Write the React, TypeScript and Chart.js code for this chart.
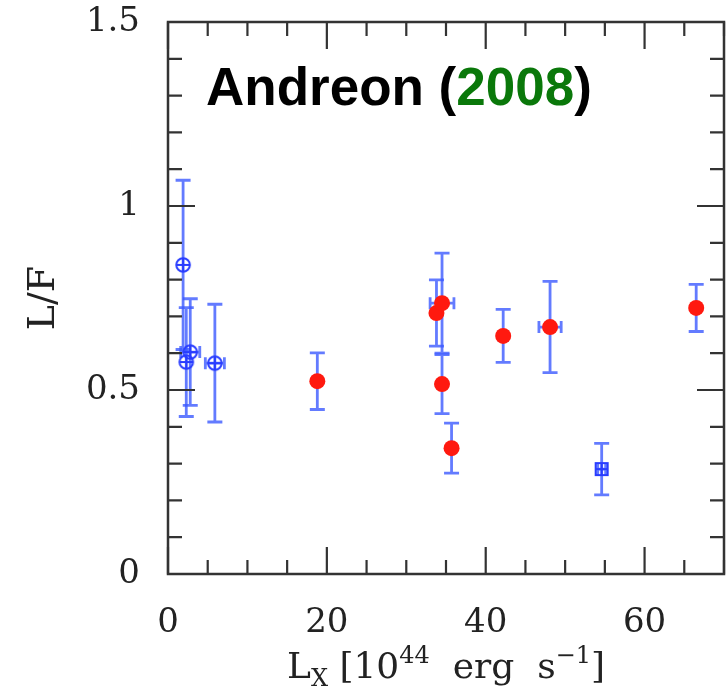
import React, { useEffect, useRef } from 'react';
import { Chart, registerables } from 'chart.js';

Chart.register(...registerables);

// ---- data ----
const openX = [1.9, 2.8, 2.3, 5.9];
const openY = [0.84, 0.603, 0.576, 0.573];
const openYErr = [0.23, 0.145, 0.148, 0.16];
const openXErr = [0, 1.2, 0, 1.2];

const squareX = [54.6];
const squareY = [0.285];
const squareYErr = [0.07];
const squareXErr = [0.5];

const redX = [18.8, 33.8, 34.5, 34.5, 35.7, 42.2, 48.1, 66.5];
const redY = [0.524, 0.709, 0.736, 0.516, 0.342, 0.647, 0.671, 0.723];
const redYErr = [0.077, 0.09, 0.136, 0.08, 0.068, 0.072, 0.124, 0.064];
const redXErr = [0.3, 0, 1.5, 0.3, 0.3, 0.5, 1.4, 0.3];

const xTicks = [0, 20, 40, 60];
const yTicks = [0, 0.5, 1, 1.5];
const xRange = [0, 70];
const yRange = [0, 1.5];
const xMinorStep = 5;
const xMajorStep = 20;
const yMinorStep = 0.1;
const yMajorStep = 0.5;

const titleParts = [
  { text: 'Andreon (', color: '#000000' },
  { text: '2008', color: '#0a780a' },
  { text: ')', color: '#000000' },
];
const yTitle = 'L/F';

const BLUE = 'rgb(40,60,255)';
const ERR = 'rgba(60,90,255,0.8)';
const RED = 'rgb(255,25,15)';
const FRAME = '#333333';
const SERIF = '"DejaVu Serif", serif';

function makeMarker(kind: 'circle' | 'square'): HTMLCanvasElement {
  const c = document.createElement('canvas');
  c.width = 18;
  c.height = 18;
  const g = c.getContext('2d')!;
  g.strokeStyle = BLUE;
  g.lineWidth = 2;
  if (kind === 'circle') {
    g.beginPath();
    g.arc(9, 9, 6.8, 0, Math.PI * 2);
    g.stroke();
  } else {
    g.strokeRect(3, 3, 12, 12);
  }
  g.beginPath();
  g.moveTo(2, 9);
  g.lineTo(16, 9);
  g.moveTo(9, 2);
  g.lineTo(9, 16);
  g.stroke();
  return c;
}

const errorBarPlugin = {
  id: 'errorBars',
  beforeDatasetsDraw(chart: any) {
    const { ctx, scales } = chart;
    const xs = scales.x;
    const ys = scales.y;
    const groups = [
      [openX, openY, openXErr, openYErr],
      [squareX, squareY, squareXErr, squareYErr],
      [redX, redY, redXErr, redYErr],
    ];
    ctx.save();
    ctx.strokeStyle = ERR;
    ctx.lineWidth = 2.8;
    for (const [gx, gy, ex, ey] of groups) {
      for (let i = 0; i < gx.length; i++) {
        const px = xs.getPixelForValue(gx[i]);
        const py = ys.getPixelForValue(gy[i]);
        if (ey[i] > 0) {
          const t = ys.getPixelForValue(gy[i] + ey[i]);
          const b = ys.getPixelForValue(gy[i] - ey[i]);
          ctx.beginPath();
          ctx.moveTo(px, t);
          ctx.lineTo(px, b);
          ctx.moveTo(px - 7.5, t);
          ctx.lineTo(px + 7.5, t);
          ctx.moveTo(px - 7.5, b);
          ctx.lineTo(px + 7.5, b);
          ctx.stroke();
        }
        if (ex[i] > 0) {
          const l = xs.getPixelForValue(gx[i] - ex[i]);
          const r = xs.getPixelForValue(gx[i] + ex[i]);
          ctx.beginPath();
          ctx.moveTo(l, py);
          ctx.lineTo(r, py);
          ctx.moveTo(l, py - 6);
          ctx.lineTo(l, py + 6);
          ctx.moveTo(r, py - 6);
          ctx.lineTo(r, py + 6);
          ctx.stroke();
        }
      }
    }
    ctx.restore();
  },
};

const framePlugin = {
  id: 'frame',
  afterDraw(chart: any) {
    const { ctx, chartArea, scales } = chart;
    const { left, right, top, bottom } = chartArea;
    const xs = scales.x;
    const ys = scales.y;
    ctx.save();
    ctx.strokeStyle = FRAME;
    ctx.lineWidth = 2.5;
    ctx.strokeRect(left, top, right - left, bottom - top);
    ctx.lineWidth = 2.2;
    ctx.beginPath();
    const nx = Math.round((xRange[1] - xRange[0]) / xMinorStep);
    for (let i = 0; i <= nx; i++) {
      const v = xRange[0] + i * xMinorStep;
      const len = Math.abs(v % xMajorStep) < 1e-9 ? 27 : 14;
      const p = xs.getPixelForValue(v);
      ctx.moveTo(p, bottom);
      ctx.lineTo(p, bottom - len);
      ctx.moveTo(p, top);
      ctx.lineTo(p, top + len);
    }
    const ny = Math.round((yRange[1] - yRange[0]) / yMinorStep);
    const per = Math.round(yMajorStep / yMinorStep);
    for (let i = 0; i <= ny; i++) {
      const v = yRange[0] + i * yMinorStep;
      const len = i % per === 0 ? 27 : 14;
      const p = ys.getPixelForValue(v);
      ctx.moveTo(left, p);
      ctx.lineTo(left + len, p);
      ctx.moveTo(right, p);
      ctx.lineTo(right - len, p);
    }
    ctx.stroke();

    // y title
    ctx.fillStyle = '#222222';
    ctx.save();
    ctx.translate(44, (top + bottom) / 2);
    ctx.rotate(-Math.PI / 2);
    ctx.font = `38px ${SERIF}`;
    ctx.textAlign = 'center';
    ctx.textBaseline = 'middle';
    ctx.fillText(yTitle, 0, 0);
    ctx.restore();

    // x title with sub/superscripts
    const big = `36px ${SERIF}`;
    const small = `24px ${SERIF}`;
    const parts = [
      { t: 'L', f: big, dy: 0 },
      { t: 'X', f: small, dy: 8 },
      { t: ' [10', f: big, dy: 0 },
      { t: '44', f: small, dy: -15 },
      { t: '  erg  s', f: big, dy: 0 },
      { t: '−1', f: small, dy: -15 },
      { t: ']', f: big, dy: 0 },
    ];
    let total = 0;
    for (const p of parts) {
      ctx.font = p.f;
      total += ctx.measureText(p.t).width;
    }
    let cx = (left + right) / 2 - total / 2;
    const base = 678;
    ctx.textAlign = 'left';
    ctx.textBaseline = 'alphabetic';
    for (const p of parts) {
      ctx.font = p.f;
      ctx.fillText(p.t, cx, base + p.dy);
      cx += ctx.measureText(p.t).width;
    }

    // chart title
    ctx.font = 'bold 53px "Liberation Sans", Arial, sans-serif';
    let tx = 206;
    for (const p of titleParts) {
      ctx.fillStyle = p.color;
      ctx.fillText(p.text, tx, 105);
      tx += ctx.measureText(p.text).width;
    }
    ctx.restore();
  },
};

export default function App() {
  const ref = useRef<HTMLCanvasElement | null>(null);
  useEffect(() => {
    if (!ref.current) return;
    const circleImg = makeMarker('circle');
    const squareImg = makeMarker('square');
    const chart = new Chart(ref.current, {
      type: 'scatter',
      data: {
        datasets: [
          {
            data: openX.map((x, i) => ({ x, y: openY[i] })),
            pointStyle: circleImg as any,
            pointRadius: 9,
          },
          {
            data: squareX.map((x, i) => ({ x, y: squareY[i] })),
            pointStyle: squareImg as any,
            pointRadius: 9,
          },
          {
            data: redX.map((x, i) => ({ x, y: redY[i] })),
            pointStyle: 'circle',
            pointRadius: 8,
            backgroundColor: RED,
            borderColor: RED,
            borderWidth: 0,
          },
        ],
      },
      options: {
        animation: false,
        responsive: false,
        devicePixelRatio: 1,
        layout: { autoPadding: false, padding: { top: 22, right: 2, left: 0, bottom: 0 } },
        plugins: { legend: { display: false }, tooltip: { enabled: false }, title: { display: false } },
        scales: {
          x: {
            type: 'linear',
            min: xRange[0],
            max: xRange[1],
            grid: { display: false },
            border: { display: false },
            afterBuildTicks: (axis: any) => {
              axis.ticks = xTicks.map((v) => ({ value: v }));
            },
            afterFit: (scale: any) => {
              scale.height = 118;
              scale.paddingLeft = 0;
              scale.paddingRight = 0;
            },
            ticks: {
              padding: 21,
              color: '#222222',
              font: { family: SERIF, size: 34 },
              maxRotation: 0,
              callback: (v: any) => String(v),
            },
          },
          y: {
            type: 'linear',
            min: yRange[0],
            max: yRange[1],
            grid: { display: false },
            border: { display: false },
            afterBuildTicks: (axis: any) => {
              axis.ticks = yTicks.map((v) => ({ value: v }));
            },
            afterFit: (scale: any) => {
              scale.width = 168;
              scale.paddingTop = 0;
              scale.paddingBottom = 0;
            },
            ticks: {
              padding: 20,
              color: '#222222',
              font: { family: SERIF, size: 34 },
              callback: (v: any) => String(v),
            },
          },
        },
      },
      plugins: [errorBarPlugin, framePlugin],
    });
    return () => chart.destroy();
  }, []);
  return (
    <div style={{ position: 'absolute', left: 0, top: 0, width: 726, height: 692, background: '#fff' }}>
      <canvas ref={ref} width={726} height={692} style={{ width: 726, height: 692 }} />
    </div>
  );
}
